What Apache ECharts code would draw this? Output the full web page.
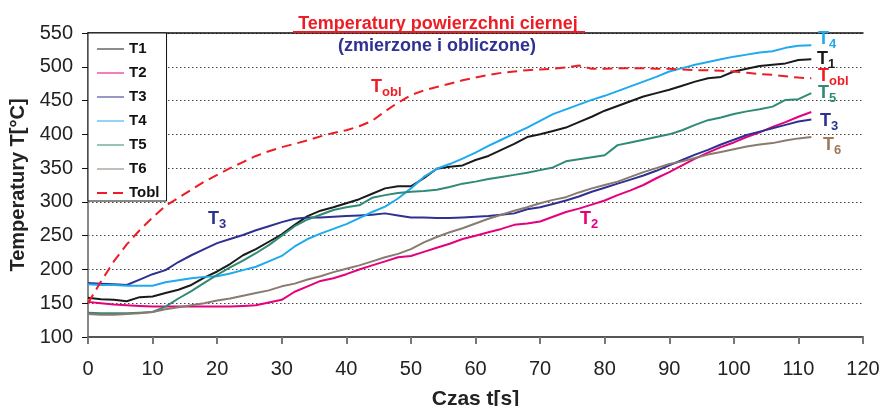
<!DOCTYPE html>
<html>
<head>
<meta charset="utf-8">
<script src="https://cdn.jsdelivr.net/npm/echarts@6/dist/echarts.min.js"></script>
<style>html,body{margin:0;padding:0;background:#fff}#c{width:883px;height:406px}</style>
</head>
<body>
<div id="c"></div>
<script>
var time = [0,2,4,6,8,10,12,14,16,18,20,22,24,26,28,30,32,34,36,38,40,42,44,46,48,50,52,54,56,58,60,62,64,66,68,70,72,74,76,78,80,82,84,86,88,90,92,94,96,98,100,102,104,106,108,110,112];
var T1 = [158,156,155,153,159,160,165,170,177,188,197,208,221,230,241,252,266,279,287,292,298,304,312,320,323,323,335,349,352,354,362,368,377,386,396,400,405,410,418,426,435,442,449,456,461,466,472,478,483,485,493,497,501,503,505,510,511];
var T2 = [152,150,148,147,146,145,145,145,145,145,145,145,146,147,151,155,167,175,183,187,193,200,206,212,218,220,226,232,238,245,250,255,260,266,268,271,278,285,290,296,302,310,317,325,335,344,354,364,373,381,388,396,403,411,418,426,433];
var T3 = [180,179,178,177,185,193,199,211,221,230,239,245,251,258,264,270,275,277,277,278,279,280,281,283,280,277,277,276,276,277,278,279,281,283,289,292,297,302,308,315,321,327,333,339,346,354,362,370,377,385,392,399,404,409,414,419,422];
var T4 = [178,177,177,176,176,176,181,184,187,189,190,194,199,204,212,220,234,245,253,260,267,276,285,293,305,320,337,349,356,364,373,383,392,401,410,420,430,437,444,451,457,464,471,478,485,493,498,503,507,511,515,518,521,523,528,531,532];
var T5 = [136,135,135,135,136,137,145,157,168,180,192,203,213,224,236,250,264,274,281,288,292,295,306,310,313,315,316,318,322,327,330,334,337,340,343,347,351,360,363,366,369,384,388,392,396,400,406,414,421,425,430,434,437,441,451,452,461];
var T6 = [134,133,133,134,135,137,141,144,147,150,154,157,161,165,169,175,179,185,190,196,201,206,212,218,223,230,240,248,255,261,268,275,281,287,292,298,303,307,314,320,325,330,337,344,350,356,360,365,370,374,378,382,385,387,391,394,396];
var Tobl = [150,182,212,237,258,277,294,306,318,330,340,350,359,368,375,381,386,391,397,402,406,412,420,434,447,458,465,470,475,480,484,488,491,493,495,496,497,499,502,497,497,498,498,498,497,497,496,495,495,494,493,491,489,488,486,484,483];
var seriesNames = ['T1','T2','T3','T4','T5','T6','Tobl'];
var seriesData = [T1,T2,T3,T4,T5,T6,Tobl];
var colors = ['#1a1a1a','#E5007D','#2E3192','#1FAAEE','#2F8A76','#8A7A70','#EE1D25'];
var xTicks = [0,10,20,30,40,50,60,70,80,90,100,110,120];
var yTicks = [100,150,200,250,300,350,400,450,500,550];

function pairs(arr){ return time.map(function(t,i){ return [t, arr[i]]; }); }

var series = seriesNames.map(function(n, k){
  return {
    name: n, type: 'line', symbol: 'none', showSymbol: false, data: pairs(seriesData[k]),
    lineStyle: { color: colors[k], width: 2, type: n === 'Tobl' ? [10,6] : 'solid' },
    itemStyle: { color: colors[k] }, z: 3 + (n === 'Tobl' ? 1 : 0)
  };
});

var F = '"Liberation Sans", Arial, sans-serif';
function lbl(main, sub, x, y, color){
  var out = [{type:'text', x:x, y:y, z:100, style:{text:main, font:'bold 18px '+F, fill:color, verticalAlign:'middle', align:'left'}}];
  if (sub) out.push({type:'text', x:x+11, y:y+5, z:100, style:{text:sub, font:'bold 13px '+F, fill:color, verticalAlign:'middle', align:'left'}});
  return out;
}
var graphics = [].concat(
  [{type:'text', x:438, y:24, z:100, style:{text:'Temperatury powierzchni ciernej', font:'bold 18px '+F, fill:'#EE1D25', align:'center', verticalAlign:'middle'}},
   {type:'line', z:101, shape:{x1:293,y1:32,x2:585,y2:32}, style:{stroke:'#EE1D25', lineWidth:2}},
   {type:'text', x:437, y:46, z:100, style:{text:'(zmierzone i obliczone)', font:'bold 18px '+F, fill:'#2E3192', align:'center', verticalAlign:'middle'}}],
  lbl('T','3',208,219,'#2E3192'),
  lbl('T','obl',371,87,'#EE1D25'),
  lbl('T','2',580,219,'#E5007D'),
  lbl('T','4',818,39,'#1FAAEE'),
  lbl('T','1',817,59,'#1a1a1a'),
  lbl('T','obl',818,76,'#EE1D25'),
  lbl('T','5',818,93,'#2F8A76'),
  lbl('T','3',820,121,'#2E3192'),
  lbl('T','6',823,145,'#A0785A')
);

var chart = echarts.init(document.getElementById('c'));
chart.setOption({
  animation: false,
  backgroundColor: '#fff',
  grid: { left: 88, top: 33, right: 20, bottom: 69, containLabel: false, outerBoundsMode: 'none' },
  legend: {
    orient: 'vertical', left: 88, top: 33,
    padding: [8, 7, 0, 8], itemGap: 8, itemWidth: 27, itemHeight: 14,
    backgroundColor: '#fff', borderColor: '#111', borderWidth: 1, borderRadius: 0,
    itemStyle: { opacity: 0 },
    textStyle: { fontFamily: F, fontWeight: 'bold', fontSize: 15, color: '#111', lineHeight: 16 },
    data: seriesNames.map(function(n){ return { name: n, lineStyle: { width: n==='Tobl'?2:1 } }; }),
    z: 50
  },
  xAxis: [{
    type: 'value', min: 0, max: 120, interval: 10,
    name: 'Czas t[s]', nameLocation: 'middle', nameGap: 52,
    nameTextStyle: { fontFamily: F, fontWeight: 'bold', fontSize: 21, color: '#222' },
    axisLine: { show: true, lineStyle: { color: '#555', width: 2 } },
    axisTick: { show: true, length: 7, lineStyle: { color: '#777', width: 2 } },
    axisLabel: { fontFamily: F, fontSize: 20, color: '#222', margin: 22 },
    splitLine: { show: false }
  }, {
    type: 'value', min: 0, max: 120, position: 'top',
    axisLine: { show: true, lineStyle: { color: '#111', width: 1.5 } },
    axisTick: { show: false }, axisLabel: { show: false }, splitLine: { show: false }
  }],
  yAxis: [{
    type: 'value', min: 100, max: 550, interval: 50,
    name: 'Temperatury T[°C]', nameLocation: 'middle', nameGap: 56,
    nameTextStyle: { fontFamily: F, fontWeight: 'bold', fontSize: 20, color: '#222' },
    axisLine: { show: true, lineStyle: { color: '#111', width: 1.5 } },
    axisTick: { show: true, length: 6, lineStyle: { color: '#111' } },
    axisLabel: { fontFamily: F, fontSize: 20, color: '#222', margin: 15 },
    splitLine: { show: true, lineStyle: { color: '#444', type: [1.5, 2.5], width: 1 } }
  }, {
    type: 'value', min: 100, max: 550, position: 'right',
    axisLine: { show: true, lineStyle: { color: '#888', width: 2 } },
    axisTick: { show: false }, axisLabel: { show: false }, splitLine: { show: false }
  }],
  series: series,
  graphic: graphics
});
</script>
</body>
</html>
